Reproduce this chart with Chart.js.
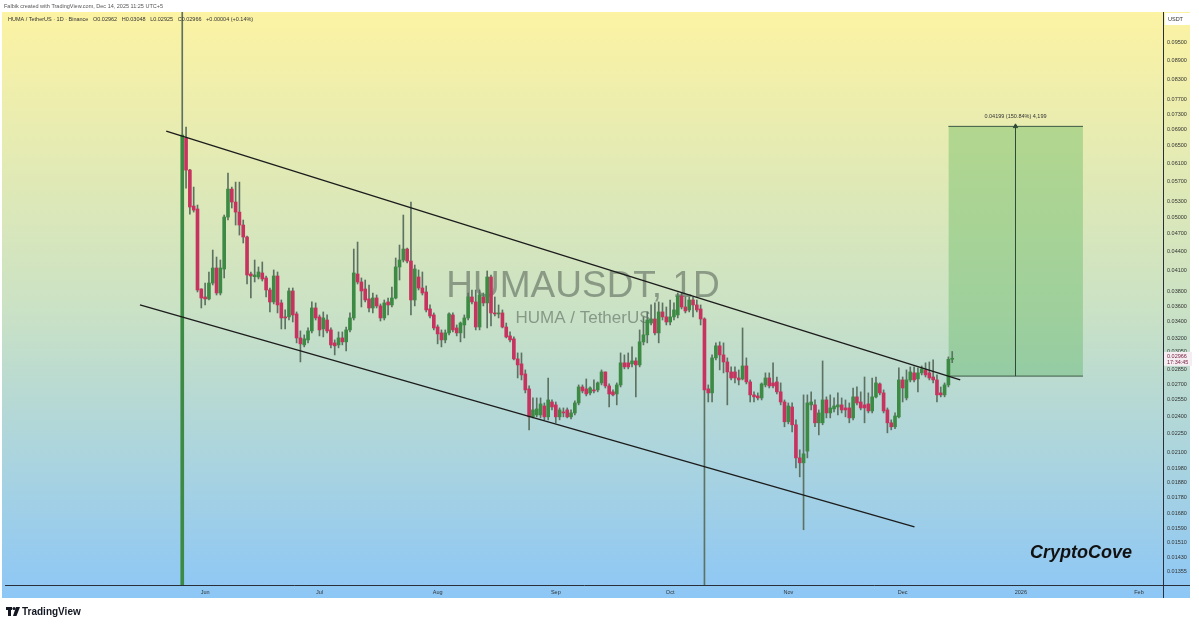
<!DOCTYPE html>
<html>
<head>
<meta charset="utf-8">
<script src="https://cdn.jsdelivr.net/npm/chart.js@4.4.1/dist/chart.umd.min.js"></script>
<style>
  body { margin: 0; background: #fff; }
  #wrap { position: relative; width: 1199px; height: 627px; }
</style>
</head>
<body>
<div id="wrap"><canvas id="humaChart" width="1199" height="627"></canvas></div>
<script>
// HUMA / TetherUS, 1D candles. x = days counted from 1 Jun 2025
const firstDay = -6;
const opens = [
  0.0120, 0.06688, 0.05945, 0.05208, 0.05151, 0.03837, 0.03726, 0.03699, 0.03922, 0.04145,
  0.03781, 0.0413, 0.05001, 0.05543, 0.05285, 0.05093, 0.04856, 0.04646, 0.04055, 0.04015,
  0.0401, 0.0407, 0.03996, 0.03823, 0.03658, 0.04025, 0.03645, 0.03462, 0.03462, 0.03809,
  0.035, 0.03204, 0.03123, 0.03181, 0.03288, 0.03578, 0.03462, 0.03312, 0.03423, 0.033,
  0.03146, 0.03123, 0.03204, 0.03158, 0.033, 0.03449, 0.04055, 0.03937, 0.03837, 0.03699,
  0.03578, 0.03712, 0.03605, 0.03449, 0.03658, 0.03618, 0.03712, 0.04161, 0.04269, 0.04445,
  0.04253, 0.03685, 0.0401, 0.03851, 0.03795, 0.03565, 0.03487, 0.03336, 0.03264, 0.03181,
  0.03264, 0.03487, 0.03324, 0.03264, 0.03361, 0.03449, 0.03726, 0.03658, 0.03336, 0.03726,
  0.03645, 0.0401, 0.03513, 0.035, 0.03513, 0.03336, 0.03228, 0.03193, 0.02966, 0.02912,
  0.02806, 0.02656, 0.02396, 0.02413, 0.02413, 0.02494, 0.02396, 0.02531, 0.02504, 0.02396,
  0.0244, 0.02458, 0.02396, 0.02431, 0.02522, 0.02675, 0.02656, 0.02617, 0.02646, 0.02646,
  0.02715, 0.02827, 0.02685, 0.02627, 0.02607, 0.02695, 0.02923, 0.02923, 0.02912, 0.02944,
  0.02901, 0.03158, 0.0324, 0.03385, 0.03436, 0.03264, 0.03526, 0.03462, 0.03398, 0.03462,
  0.03487, 0.0374, 0.03591, 0.03552, 0.03685, 0.03618, 0.03565, 0.03436, 0.02656, 0.02617,
  0.02977, 0.03112, 0.0301, 0.02933, 0.02827, 0.02827, 0.02765, 0.02755, 0.0289, 0.02725,
  0.02598, 0.02588, 0.02569, 0.02695, 0.02765, 0.02715, 0.02725, 0.02627, 0.02531, 0.02353,
  0.02485, 0.02327, 0.0206, 0.02023, 0.02112, 0.02504, 0.02504, 0.02344, 0.02344, 0.0255,
  0.02431, 0.02467, 0.02485, 0.02504, 0.02476, 0.02476, 0.02387, 0.02579, 0.02531, 0.02504,
  0.02513, 0.02449, 0.02579, 0.02705, 0.02617, 0.02458, 0.02344, 0.0231, 0.02396, 0.02745,
  0.02569, 0.02745, 0.02817, 0.02755, 0.02817, 0.02848, 0.02817, 0.02775, 0.02745, 0.02617,
  0.02598, 0.02695, 0.02962
];
const highs = [
  0.1100, 0.06964, 0.0596, 0.05584, 0.05227, 0.0384, 0.03922, 0.04085, 0.04429, 0.04316,
  0.04269, 0.05038, 0.0588, 0.05584, 0.05688, 0.05688, 0.04946, 0.04663, 0.04085, 0.04269,
  0.04161, 0.04238, 0.04025, 0.03851, 0.04115, 0.04085, 0.03685, 0.03552, 0.03851, 0.03851,
  0.03526, 0.03288, 0.0324, 0.03324, 0.03658, 0.03645, 0.03487, 0.03526, 0.03487, 0.03324,
  0.03181, 0.03276, 0.03276, 0.03336, 0.03513, 0.04445, 0.04561, 0.03996, 0.03966, 0.03894,
  0.03781, 0.03753, 0.03631, 0.03685, 0.03712, 0.03865, 0.04301, 0.04511, 0.05038, 0.04462,
  0.05285, 0.04191, 0.04115, 0.04085, 0.0388, 0.03618, 0.03513, 0.03361, 0.033, 0.033,
  0.03513, 0.03513, 0.03361, 0.03398, 0.03487, 0.03781, 0.03823, 0.03823, 0.03823, 0.03781,
  0.041, 0.0404, 0.03726, 0.03618, 0.03552, 0.03385, 0.03276, 0.03216, 0.03032, 0.03032,
  0.02848, 0.02685, 0.02569, 0.02569, 0.02569, 0.02522, 0.02765, 0.0255, 0.02531, 0.02476,
  0.02476, 0.02476, 0.02458, 0.02541, 0.02695, 0.02695, 0.02755, 0.02675, 0.02745, 0.02725,
  0.02848, 0.02827, 0.02705, 0.02646, 0.02715, 0.03032, 0.0301, 0.03032, 0.031, 0.02977,
  0.033, 0.03462, 0.03526, 0.03618, 0.03645, 0.03658, 0.03645, 0.03591, 0.03685, 0.03645,
  0.03781, 0.03781, 0.03726, 0.03726, 0.03726, 0.03685, 0.03618, 0.03449, 0.02695, 0.0301,
  0.03146, 0.03158, 0.03146, 0.02977, 0.0288, 0.0288, 0.02848, 0.03324, 0.02977, 0.02745,
  0.02627, 0.02617, 0.02715, 0.02817, 0.02817, 0.02923, 0.02775, 0.02715, 0.0255, 0.02522,
  0.02522, 0.0237, 0.02122, 0.02598, 0.02598, 0.02627, 0.0255, 0.02458, 0.02944, 0.02579,
  0.02598, 0.02569, 0.02617, 0.02569, 0.0255, 0.02522, 0.02665, 0.02675, 0.02627, 0.02775,
  0.02617, 0.02765, 0.02775, 0.02715, 0.02646, 0.02476, 0.0237, 0.02431, 0.02869, 0.02775,
  0.02848, 0.0288, 0.0288, 0.02869, 0.0289, 0.02923, 0.02933, 0.02955, 0.02796, 0.02675,
  0.02715, 0.02988, 0.03048
];
const lows = [
  0.0115, 0.05564, 0.05056, 0.05093, 0.03795, 0.03578, 0.03618, 0.03685, 0.03894, 0.03753,
  0.03753, 0.03996, 0.04946, 0.0517, 0.04856, 0.0468, 0.04545, 0.03908, 0.03712, 0.03937,
  0.03981, 0.03951, 0.03726, 0.03526, 0.03631, 0.03513, 0.03312, 0.03312, 0.03423, 0.03398,
  0.03146, 0.02933, 0.031, 0.03146, 0.03264, 0.03423, 0.03228, 0.03216, 0.03264, 0.03089,
  0.0301, 0.03089, 0.03123, 0.03055, 0.03276, 0.03423, 0.03908, 0.03591, 0.03658, 0.03526,
  0.03513, 0.03578, 0.0341, 0.03423, 0.03487, 0.03591, 0.03699, 0.03966, 0.04238, 0.04222,
  0.03487, 0.03605, 0.03823, 0.03753, 0.03526, 0.03449, 0.033, 0.03135, 0.031, 0.03146,
  0.0324, 0.03276, 0.03228, 0.03158, 0.03204, 0.03423, 0.03631, 0.033, 0.033, 0.03605,
  0.03324, 0.03349, 0.03474, 0.03449, 0.03324, 0.03204, 0.03158, 0.02955, 0.02765, 0.02745,
  0.02617, 0.02284, 0.02387, 0.02396, 0.02387, 0.0237, 0.0237, 0.02458, 0.02344, 0.0237,
  0.02396, 0.02387, 0.02378, 0.02413, 0.02504, 0.02617, 0.02588, 0.02598, 0.02617, 0.02627,
  0.02695, 0.02665, 0.02485, 0.02588, 0.02504, 0.02675, 0.02859, 0.02859, 0.0288, 0.02579,
  0.0288, 0.03123, 0.03146, 0.03361, 0.0324, 0.03146, 0.03423, 0.03361, 0.03361, 0.03423,
  0.03449, 0.03565, 0.03513, 0.03526, 0.03462, 0.03526, 0.03361, 0.0120, 0.02531, 0.02531,
  0.02955, 0.02848, 0.02817, 0.02504, 0.02745, 0.02715, 0.02695, 0.02745, 0.02705, 0.02531,
  0.02531, 0.0255, 0.0255, 0.02675, 0.02665, 0.02665, 0.02607, 0.02504, 0.0231, 0.02335,
  0.02267, 0.01986, 0.01921, 0.01581, 0.0206, 0.02458, 0.0231, 0.02242, 0.02327, 0.02387,
  0.02387, 0.0244, 0.02413, 0.02431, 0.02396, 0.02344, 0.0237, 0.02504, 0.02458, 0.02344,
  0.02431, 0.02431, 0.02569, 0.02598, 0.02431, 0.02259, 0.02284, 0.02293, 0.02387, 0.02531,
  0.0255, 0.02725, 0.02725, 0.02627, 0.02796, 0.02775, 0.02745, 0.02715, 0.02531, 0.02579,
  0.02579, 0.02675, 0.02925
];
const closes = [
  0.0676, 0.05945, 0.05189, 0.05131, 0.03823, 0.03712, 0.03699, 0.03922, 0.04145, 0.03781,
  0.04145, 0.05001, 0.05543, 0.05285, 0.05093, 0.04856, 0.04646, 0.0404, 0.04025, 0.0404,
  0.04085, 0.03981, 0.03823, 0.03658, 0.04025, 0.03618, 0.03449, 0.03449, 0.03809, 0.03487,
  0.03204, 0.03135, 0.03193, 0.03288, 0.03578, 0.03449, 0.033, 0.03449, 0.03288, 0.03123,
  0.03112, 0.03204, 0.03158, 0.033, 0.03449, 0.0407, 0.03937, 0.03809, 0.03685, 0.03578,
  0.03712, 0.03605, 0.03449, 0.03645, 0.03618, 0.03712, 0.04161, 0.04269, 0.04445, 0.04253,
  0.03685, 0.0413, 0.03851, 0.03781, 0.03552, 0.03474, 0.03324, 0.03252, 0.03181, 0.03264,
  0.035, 0.033, 0.03264, 0.03385, 0.03449, 0.03726, 0.03658, 0.03336, 0.03753, 0.03645,
  0.0401, 0.03513, 0.035, 0.03513, 0.03336, 0.03216, 0.03181, 0.02966, 0.02901, 0.02796,
  0.02646, 0.02396, 0.02458, 0.02467, 0.02513, 0.02396, 0.0255, 0.02485, 0.02396, 0.02458,
  0.02431, 0.02396, 0.02431, 0.02522, 0.02675, 0.02636, 0.02607, 0.02665, 0.02636, 0.02715,
  0.02827, 0.02685, 0.02607, 0.02598, 0.02695, 0.02923, 0.0288, 0.0288, 0.02944, 0.02901,
  0.03158, 0.0324, 0.03423, 0.03436, 0.03264, 0.03526, 0.03462, 0.03398, 0.03462, 0.03552,
  0.0374, 0.03591, 0.03539, 0.03685, 0.03618, 0.03552, 0.03436, 0.02646, 0.02617, 0.02977,
  0.03112, 0.0301, 0.02933, 0.02827, 0.02765, 0.02765, 0.02745, 0.0289, 0.02725, 0.02598,
  0.02579, 0.02569, 0.02705, 0.02765, 0.02685, 0.02685, 0.02627, 0.02531, 0.02353, 0.02494,
  0.02327, 0.0206, 0.02023, 0.02091, 0.02522, 0.02531, 0.02344, 0.02431, 0.0255, 0.02431,
  0.02476, 0.02494, 0.02504, 0.02458, 0.02458, 0.02387, 0.02579, 0.02522, 0.02476, 0.02476,
  0.02449, 0.02579, 0.02715, 0.02617, 0.02449, 0.02344, 0.0231, 0.02404, 0.02745, 0.02665,
  0.02745, 0.02827, 0.02745, 0.02817, 0.02859, 0.02796, 0.02765, 0.02745, 0.02598, 0.02598,
  0.02695, 0.02962, 0.02966
];

const monthDays = [0, 30, 61, 92, 122, 153, 183, 214, 245];
const monthLabels = ['Jun', 'Jul', 'Aug', 'Sep', 'Oct', 'Nov', 'Dec', '2026', 'Feb'];
const priceTicks = [
  0.095, 0.089, 0.083, 0.077, 0.073, 0.069, 0.065, 0.061, 0.057, 0.053, 0.05, 0.047,
  0.044, 0.041, 0.038, 0.036, 0.034, 0.032, 0.0305, 0.0285, 0.027, 0.0255, 0.024, 0.0225,
  0.021, 0.0198, 0.0188, 0.0178, 0.0168, 0.0159, 0.0151, 0.0143, 0.01355
];

// falling channel, [day, price]
const upperLine = [[-10.2, 0.06863], [198.1, 0.02745]];
const lowerLine = [[-17.1, 0.03618], [186.1, 0.01598]];

// price range box
const boxDays = [195, 230.3];
const boxLow = 0.02784;
const boxHigh = 0.06983;
const arrowDay = 212.6;
const boxLabel = '0.04199 (150.84%) 4,199';

const FONT = "'Liberation Sans', Arial, sans-serif";
const UP = '#3d8a45';
const DOWN = '#c6335f';
const WICK = '#5d7262';

const days = opens.map((_, i) => firstDay + i);
const isUp = opens.map((o, i) => closes[i] >= o);

const decor = {
  id: 'decor',
  beforeDraw(chart) {
    const c = chart.ctx;
    const g = c.createLinearGradient(0, 12, 0, 598);
    g.addColorStop(0, '#fcf3a3');
    g.addColorStop(0.5, '#cbe2c4');
    g.addColorStop(1, '#8dc7f6');
    c.save();
    c.fillStyle = g;
    c.fillRect(2, 12, 1188, 586);
    c.restore();
  },
  beforeDatasetsDraw(chart) {
    const c = chart.ctx;
    c.save();
    c.textAlign = 'center';
    c.textBaseline = 'middle';
    c.fillStyle = 'rgba(80, 92, 82, 0.55)';
    c.font = '37px ' + FONT;
    c.fillText('HUMAUSDT, 1D', 583, 287);
    c.font = '17px ' + FONT;
    c.fillText('HUMA / TetherUS', 583, 318);
    c.restore();
  },
  afterDraw(chart) {
    const c = chart.ctx;
    const {x, y} = chart.scales;
    const area = chart.chartArea;
    c.save();
    // axis lines run on into the scale strips
    c.strokeStyle = '#2a2e39';
    c.lineWidth = 1;
    c.beginPath();
    c.moveTo(area.right + 0.5, area.bottom);
    c.lineTo(area.right + 0.5, 598);
    c.moveTo(area.right, area.bottom + 0.5);
    c.lineTo(1190, area.bottom + 0.5);
    c.stroke();

    // header
    c.textBaseline = 'middle';
    c.fillStyle = '#555';
    c.font = '5.5px ' + FONT;
    c.fillText('Falbik created with TradingView.com, Dec 14, 2025 11:25 UTC+5', 4, 6);
    c.fillStyle = '#333';
    c.fillText('HUMA / TetherUS · 1D · Binance   O0.02962   H0.03048   L0.02925   C0.02966   +0.00004 (+0.14%)', 8, 19);

    // box label
    c.textAlign = 'center';
    c.fillStyle = '#333';
    c.fillText(boxLabel, x.getPixelForValue(arrowDay), y.getPixelForValue(boxHigh) - 10);

    // USDT tag
    c.fillStyle = '#fff';
    c.fillRect(1165, 13, 27, 12);
    c.fillStyle = '#333';
    c.textAlign = 'left';
    c.fillText('USDT', 1168, 19);

    // last price tag
    const py = y.getPixelForValue(closes[closes.length - 1]);
    c.fillStyle = '#f4eef3';
    c.fillRect(1164, py - 7, 28, 14);
    c.fillStyle = '#7a2040';
    c.fillText('0.02966', 1167, py - 2.5);
    c.fillText('17:34:45', 1167, py + 3.5);

    // signature
    c.fillStyle = '#111';
    c.font = 'italic bold 18px ' + FONT;
    c.fillText('CryptoCove', 1030, 553);

    // footer logo
    c.fillStyle = '#131722';
    c.fillRect(6, 607, 6, 3);
    c.fillRect(8, 607, 3, 9);
    c.beginPath();
    c.arc(14, 608.5, 1.6, 0, Math.PI * 2);
    c.fill();
    c.beginPath();
    c.moveTo(16, 607);
    c.lineTo(20, 607);
    c.lineTo(16.5, 616);
    c.lineTo(13, 616);
    c.closePath();
    c.fill();
    c.font = 'bold 10px ' + FONT;
    c.fillText('TradingView', 22, 612);
    c.restore();
  }
};

const lineStyle = {
  type: 'line',
  pointRadius: 0,
  borderColor: '#1c1c1c',
  borderWidth: 1.4,
  fill: false,
  order: 1
};

new Chart(document.getElementById('humaChart'), {
  type: 'bar',
  data: {
    datasets: [
      {
        type: 'line',
        data: boxDays.map(d => ({x: d, y: boxLow})),
        borderColor: '#3c5a44',
        borderWidth: 1,
        pointRadius: 0,
        fill: false,
        order: 9
      },
      {
        type: 'line',
        data: boxDays.map(d => ({x: d, y: boxHigh})),
        borderColor: '#3c5a44',
        borderWidth: 1,
        pointRadius: 0,
        fill: '-1',
        backgroundColor: 'rgba(76, 175, 80, 0.35)',
        order: 9
      },
      {
        type: 'line',
        data: [{x: arrowDay, y: boxLow}, {x: arrowDay, y: boxHigh}],
        borderColor: '#2f4a36',
        borderWidth: 1,
        pointRadius: [0, 2.5],
        pointStyle: 'triangle',
        pointBackgroundColor: '#2f4a36',
        pointBorderColor: '#2f4a36',
        fill: false,
        order: 8
      },
      {
        label: 'wicks',
        data: days.map((d, i) => ({x: d, y: [lows[i], highs[i]]})),
        backgroundColor: WICK,
        barThickness: 1,
        grouped: false,
        order: 6
      },
      {
        label: 'bodies',
        data: days.map((d, i) => ({x: d, y: [opens[i], closes[i]]})),
        backgroundColor: isUp.map(u => (u ? UP : DOWN)),
        barThickness: 3,
        minBarLength: 1,
        grouped: false,
        order: 5
      },
      Object.assign({data: upperLine.map(p => ({x: p[0], y: p[1]}))}, lineStyle),
      Object.assign({data: lowerLine.map(p => ({x: p[0], y: p[1]}))}, lineStyle)
    ]
  },
  options: {
    responsive: false,
    maintainAspectRatio: false,
    animation: false,
    layout: {padding: {left: 5, top: 12, right: 7, bottom: 29}},
    plugins: {legend: {display: false}, tooltip: {enabled: false}},
    scales: {
      x: {
        type: 'linear',
        min: -52.5,
        max: 251.3,
        offset: false,
        grid: {display: false, drawTicks: false},
        border: {display: true, color: '#2a2e39', width: 1},
        afterBuildTicks: scale => { scale.ticks = monthDays.map(v => ({value: v})); },
        afterFit: scale => { scale.height = 13; },
        ticks: {
          autoSkip: false,
          maxRotation: 0,
          padding: 4,
          color: '#333',
          font: {family: FONT, size: 5.5},
          callback: value => monthLabels[monthDays.indexOf(value)]
        }
      },
      y: {
        type: 'logarithmic',
        position: 'right',
        min: 0.0129,
        max: 0.1064,
        grid: {display: false, drawTicks: false},
        border: {display: true, color: '#2a2e39', width: 1},
        afterBuildTicks: scale => { scale.ticks = priceTicks.map(v => ({value: v})); },
        afterFit: scale => { scale.width = 29; },
        ticks: {
          autoSkip: false,
          padding: 4,
          color: '#333',
          font: {family: FONT, size: 5.5},
          callback: value => value.toFixed(5)
        }
      }
    }
  },
  plugins: [decor]
});
</script>
</body>
</html>
